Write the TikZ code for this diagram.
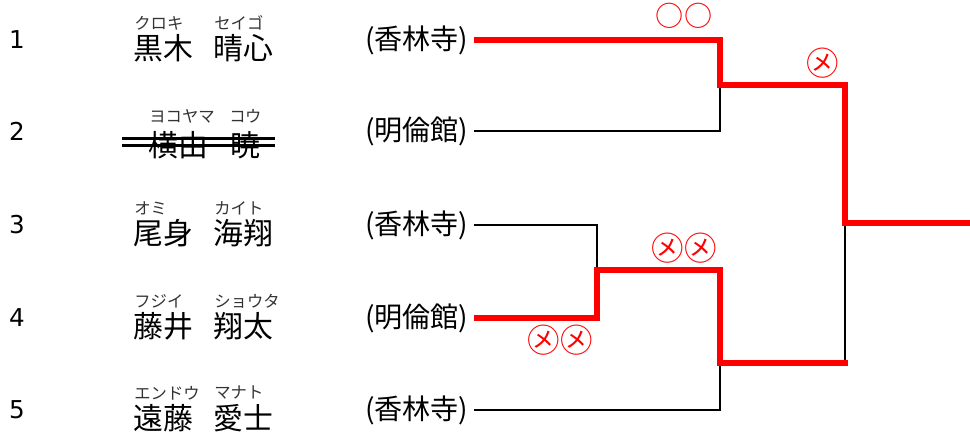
\documentclass[tikz,border=0pt]{standalone}
\usepackage{fontspec}
\newfontfamily\jpfont{Noto Sans CJK JP}
\newfontfamily\numfont{DejaVu Sans}

\begin{document}
\begin{tikzpicture}[x=0.02cm, y=-0.02cm]
        \tikzstyle{every node}=[inner sep=0pt]
        \tikzstyle{num}=[font=\numfont\fontsize{14}{14}\selectfont]
        \tikzstyle{kana}=[anchor=west, text=black!80, font=\jpfont\fontsize{9.3}{9.3}\selectfont]
        \tikzstyle{kanji}=[anchor=west, font=\jpfont\fontsize{17}{17}\selectfont]
        \tikzstyle{school}=[anchor=east, inner xsep=3pt, font=\jpfont\fontsize{16}{16}\selectfont]
        \tikzstyle{result}=[text=red, font=\jpfont\fontsize{16}{16}\selectfont]
        \tikzstyle{win}=[draw=red, line width=3.4pt]
        \tikzstyle{lose}=[draw=black, line width=1.4pt]
        \useasboundingbox (0,0) rectangle (970,443);
        % players
        \foreach \i/\y/\sk/\sn/\gk/\gn/\sc in {1/40/クロキ/黒木/セイゴ/晴心/香林寺, 3/225/オミ/尾身/カイト/海翔/香林寺, 4/318/フジイ/藤井/ショウタ/翔太/明倫館, 5/410/エンドウ/遠藤/マナト/愛士/香林寺} {
            \node[num] (num\i) at (17,\y) {\i};
            \node[kana] (sk\i) at (134,\y-17) {\sk};
            \node[kana] (gk\i) at (214,\y-17) {\gk};
            \node[kanji] (sn\i) at (133,\y+8) {\sn};
            \node[kanji] (gn\i) at (213,\y+8) {\gn};
            \node[school] (s\i) at (474,\y) {(\sc)};
        }
        \node[num] (num2) at (17,131) {2};
        \node[kana] (sk2) at (149,116) {ヨコヤマ};
        \node[kana] (gk2) at (229,116) {コウ};
        \node[kanji] (sn2) at (148,145) {横由};
        \node[kanji] (gn2) at (230,145) {暁};
        \node[school] (s2) at (474,131) {(明倫館)};
        \draw[line width=1.7pt] (122,138.5) -- (275,138.5) (122,145.5) -- (275,145.5);
        % bracket
        \coordinate (m12) at (720,85);
        \coordinate (m34) at (597,270);
        \coordinate (m345) at (720,363);
        \coordinate (fin) at (845,223);
        \coordinate (champ) at (970,223);
        \draw[lose] (s2.east) -| (m12);
        \draw[lose] (s3.east) -| (m34);
        \draw[lose] (s5.east) -| (m345);
        \draw[lose] (m345 -| fin) -- (fin);
        \draw[win] (s1.east) -| (m12) -- (m12 -| fin) |- (champ);
        \draw[win] (s4.east) -| (m34) -| (m345) -- ([xshift=1.7pt]m345 -| fin);
        % results
        \node[result] (r1) at (684,16) {○○};
        \node[result, font=\jpfont\fontsize{18.5}{18}\selectfont] (r2) at (823,63) {㋱};
        \node[result, font=\jpfont\fontsize{18.5}{18}\selectfont] (r3) at (684,248) {㋱㋱};
        \node[result, font=\jpfont\fontsize{18.5}{18}\selectfont] (r4) at (560,340) {㋱㋱};
    \end{tikzpicture}
\end{document}
